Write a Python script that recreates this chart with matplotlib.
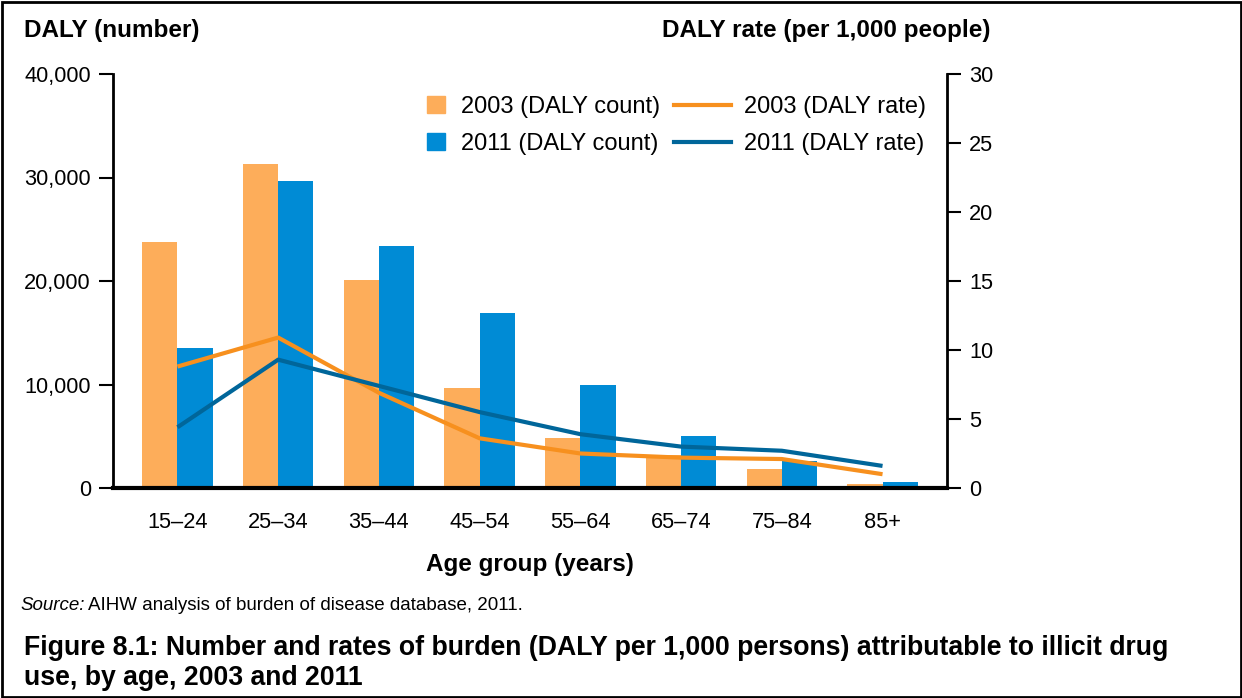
import matplotlib.pyplot as plt
import numpy as np
from matplotlib.patches import Rectangle
from matplotlib.lines import Line2D
from matplotlib.ticker import FuncFormatter

plt.rcParams['font.family'] = ['Liberation Sans', 'DejaVu Sans']

age_groups = ['15–24', '25–34', '35–44', '45–54', '55–64', '65–74', '75–84', '85+']
count_2003 = [23800, 31300, 20100, 9700, 4800, 3200, 1800, 400]
count_2011 = [13500, 29700, 23400, 16900, 10000, 5000, 2600, 600]
rate_2003 = [8.8, 10.9, 6.9, 3.6, 2.5, 2.2, 2.1, 1.0]
rate_2011 = [4.4, 9.3, 7.4, 5.5, 3.9, 3.0, 2.7, 1.6]

c_bar03 = '#FDAD5A'
c_bar11 = '#008BD5'
c_line03 = '#F7901E'
c_line11 = '#00669A'

W, H = 1242, 698
fig = plt.figure(figsize=(W / 100, H / 100), dpi=100)
ax = fig.add_axes([113 / W, 1 - 488 / H, (947 - 113) / W, (488 - 74) / H])
ax2 = ax.twinx()

x = np.arange(len(age_groups))
w = 0.35
ax.bar(x - w / 2, count_2003, width=w, color=c_bar03, zorder=2)
ax.bar(x + w / 2, count_2011, width=w, color=c_bar11, zorder=2)
ax2.plot(x, rate_2003, color=c_line03, lw=3.0, solid_capstyle='butt', zorder=3)
ax2.plot(x, rate_2011, color=c_line11, lw=3.0, solid_capstyle='butt', zorder=3)

ax.set_xlim(-0.64, 7.64)
ax.set_ylim(0, 40000)
ax2.set_ylim(0, 30)
ax.set_yticks([0, 10000, 20000, 30000, 40000])
ax.yaxis.set_major_formatter(FuncFormatter(lambda v, p: f'{int(v):,}'))
ax2.set_yticks([0, 5, 10, 15, 20, 25, 30])
ax.set_xticks(x)
ax.set_xticklabels(age_groups)

for a in (ax, ax2):
    a.spines['top'].set_visible(False)
    a.set_facecolor('none')
ax.spines['right'].set_visible(False)
ax2.spines['left'].set_visible(False)
ax2.spines['bottom'].set_visible(False)
ax.spines['left'].set_linewidth(2)
ax2.spines['right'].set_linewidth(2)
ax.spines['bottom'].set_linewidth(3)
ax.spines['bottom'].set_zorder(5)

ax.tick_params(axis='y', direction='out', length=10, width=1.5, labelsize=15.7, pad=6)
ax2.tick_params(axis='y', direction='out', length=10, width=1.5, labelsize=15.7, pad=6)
ax.tick_params(axis='x', length=0, labelsize=15.7, pad=17)

fig.text(24 / W, 1 - 30 / H, 'DALY (number)', fontsize=17.5, fontweight='bold',
         ha='left', va='center')
fig.text(991 / W, 1 - 30 / H, 'DALY rate (per 1,000 people)', fontsize=17.5,
         fontweight='bold', ha='right', va='center')
fig.text(530 / W, 1 - 565 / H, 'Age group (years)', fontsize=17.5, fontweight='bold',
         ha='center', va='center')

fig.text(20 / W, 1 - 605 / H, 'Source:', fontsize=13.5, style='italic',
         ha='left', va='center')
fig.text(88 / W, 1 - 605 / H, 'AIHW analysis of burden of disease database, 2011.',
         fontsize=13.5, ha='left', va='center')

fig.text(24 / W, 1 - 648 / H,
         'Figure 8.1: Number and rates of burden (DALY per 1,000 persons) attributable to illicit drug',
         fontsize=19.2, fontweight='bold', ha='left', va='center')
fig.text(24 / W, 1 - 678 / H, 'use, by age, 2003 and 2011',
         fontsize=19.2, fontweight='bold', ha='left', va='center')

# legend: bar entries and line entries as two side-by-side blocks
leg_fs = 17
bar_handles = [Rectangle((0, 0), 1, 1, color=c_bar03), Rectangle((0, 0), 1, 1, color=c_bar11)]
bar_labels = ['2003 (DALY count)', '2011 (DALY count)']
line_handles = [Line2D([], [], color=c_line03, lw=3.0), Line2D([], [], color=c_line11, lw=3.0)]
line_labels = ['2003 (DALY rate)', '2011 (DALY rate)']

common = dict(loc='upper left', bbox_transform=fig.transFigure, frameon=False,
              fontsize=leg_fs, borderpad=0, borderaxespad=0, labelspacing=0.63)
leg1 = ax2.legend(bar_handles, bar_labels, bbox_to_anchor=(427 / W, 1 - 96 / H),
                  handlelength=0.76, handleheight=0.76, handletextpad=0.68, **common)
ax2.add_artist(leg1)
leg2 = ax2.legend(line_handles, line_labels, bbox_to_anchor=(674 / W, 1 - 96 / H),
                  handlelength=2.42, handletextpad=0.55, **common)

# figure border
fig.add_artist(Rectangle((1.5 / W, 1.5 / H), 1 - 3 / W, 1 - 3 / H,
                         transform=fig.transFigure, fill=False, edgecolor='black', lw=2))

fig.savefig('out.png', dpi=100)
